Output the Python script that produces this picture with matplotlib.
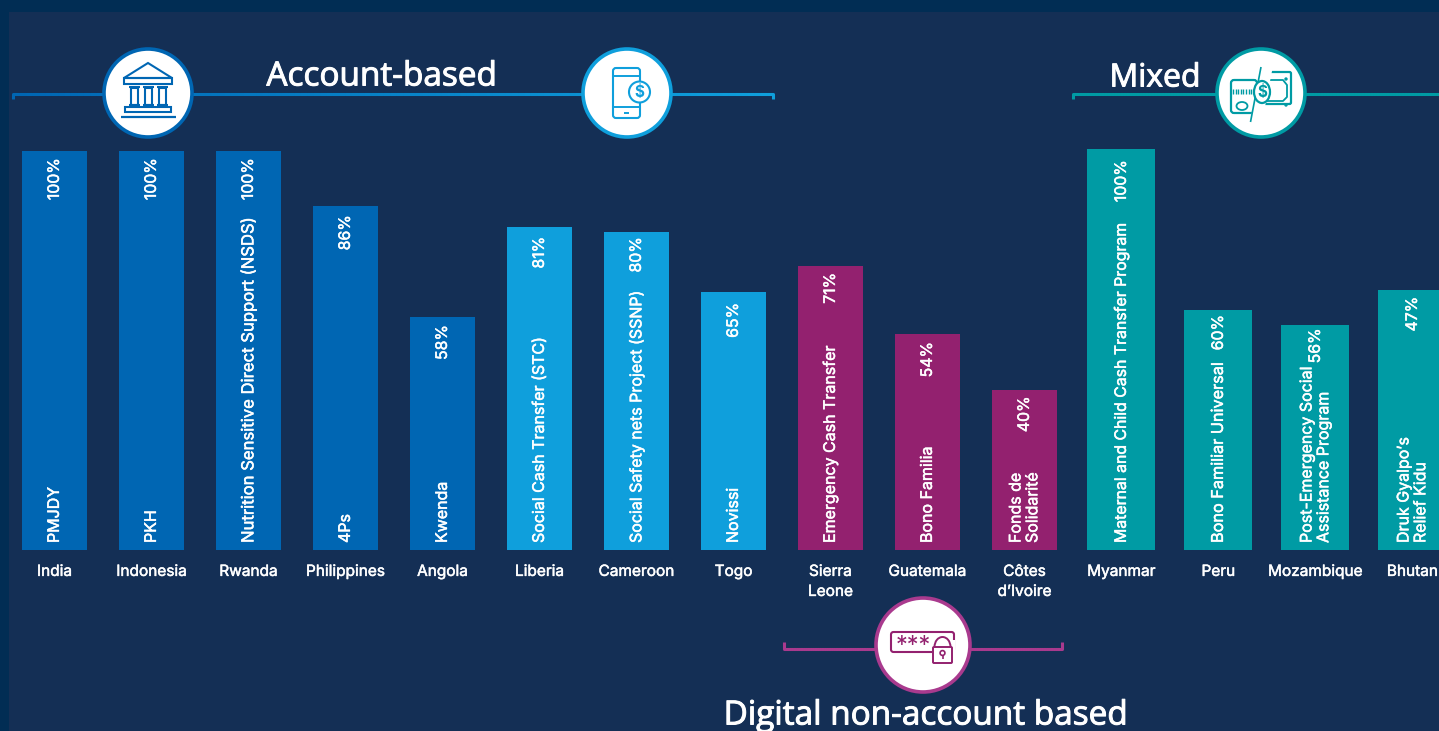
import numpy as np
import matplotlib
matplotlib.use("Agg")
import matplotlib.pyplot as plt
import matplotlib.patheffects as pe
from matplotlib.collections import LineCollection
from matplotlib.colors import to_rgb
from matplotlib.patches import Arc, Circle, Ellipse, FancyBboxPatch, Polygon, Rectangle

countries = ["India", "Indonesia", "Rwanda", "Philippines", "Angola", "Liberia", "Cameroon", "Togo",
             "Sierra\nLeone", "Guatemala", "Côtes\nd’Ivoire", "Myanmar", "Peru", "Mozambique", "Bhutan"]
programs = ["PMJDY", "PKH", "Nutrition Sensitive Direct Support (NSDS)", "4Ps", "Kwenda",
            "Social Cash Transfer (STC)", "Social Safety nets Project (SSNP)", "Novissi",
            "Emergency Cash Transfer", "Bono Familia", "Fonds de\nSolidarité",
            "Maternal and Child Cash Transfer Program", "Bono Familiar Universal",
            "Post-Emergency Social\nAssistance Program", "Druk Gyalpo’s\nRelief Kidu"]
value_labels = ["100%", "100%", "100%", "86%", "58%", "81%", "80%", "65%",
                "71%", "54%", "40%", "100%", "60%", "56%", "47%"]
# bar heights as drawn, the Bhutan bar is taller than its 47% label
bar_heights = [100, 100, 100, 86.2, 58.4, 81, 79.7, 64.7, 71.2, 54.1, 40, 100.5, 60.2, 56.3, 65.2]

DARK_BLUE = "#0066B3"
LIGHT_BLUE = "#0F9FDC"
MAGENTA = "#93216F"
TEAL = "#009BA4"
bar_colors = [DARK_BLUE] * 5 + [LIGHT_BLUE] * 3 + [MAGENTA] * 3 + [TEAL] * 4
bar_widths = [0.67] * 11 + [0.70] * 4
label_drop_px = [7, 7, 7, 9, 8, 10, 5, 11, 7, 8, 6, 11, 5, 3, 7]
program_sizes = [11.5, 11.5, 12.0, 11.5, 11.5, 11.5, 11.5, 11.5, 11.5, 11.5, 11.5, 11.4, 11.7, 11.5, 11.5]

plt.rcParams["font.family"] = ["Inter", "DejaVu Sans"]
bold = [pe.withStroke(linewidth=0.35, foreground="white")]

W, H = 1439, 731
fig = plt.figure(figsize=(W / 100, H / 100), dpi=100, facecolor="#012D54")

# pixel overlay for panel, brackets and icons
bg = fig.add_axes([0, 0, 1, 1], zorder=0)
bg.set_xlim(0, W)
bg.set_ylim(H, 0)
bg.axis("off")
bg.add_patch(Rectangle((9, 12), W, H, fc="#142F55", ec="none"))

ax = fig.add_axes([0, (H - 550) / H, 1, 399 / H], zorder=1)
ax.patch.set_alpha(0)
ax.set_xlim(-54.4 / 97, (W - 54.4) / 97)
ax.set_ylim(0, 100)
for side in ax.spines.values():
    side.set_visible(False)
ax.set_yticks([])

x = np.arange(len(countries))
ax.bar(x, bar_heights, width=bar_widths, color=bar_colors, clip_on=False)
ax.set_xticks(x, countries, color="white", fontsize=11.1, linespacing=1.42)
ax.tick_params(axis="x", length=0, pad=10)
for tick_label in ax.get_xticklabels():
    tick_label.set_path_effects(bold)

for i in x:
    ax.annotate(programs[i], (i, 0), xytext=(0, 7), textcoords="offset pixels", rotation=90,
                ha="center", va="bottom", color="white", fontsize=program_sizes[i], linespacing=1.15,
                multialignment="left", path_effects=bold)
    ax.annotate(value_labels[i], (i, bar_heights[i]), xytext=(0, -label_drop_px[i]), textcoords="offset pixels",
                rotation=90, ha="center", va="top", color="white", fontsize=11.4,
                annotation_clip=False, path_effects=bold)

ov = fig.add_axes([0, 0, 1, 1], zorder=2)
ov.set_xlim(0, W)
ov.set_ylim(H, 0)
ov.axis("off")


def bracket(x0, x1, y, hook, c0, c1=None):
    c1 = c1 or c0
    xs = np.linspace(x0, x1, 120)
    segs = [[(a, y), (b, y)] for a, b in zip(xs[:-1], xs[1:])]
    rgb0, rgb1 = np.array(to_rgb(c0)), np.array(to_rgb(c1))
    cols = [rgb0 + (rgb1 - rgb0) * t for t in np.linspace(0, 1, len(segs))]
    ov.add_collection(LineCollection(segs, colors=cols, linewidths=2.2, capstyle="round"))
    ov.plot([x0, x0], [y, y + hook], color=c0, lw=2.2, solid_capstyle="butt")
    ov.plot([x1, x1], [y, y + hook], color=c1, lw=2.2, solid_capstyle="butt")


def badge(cx, cy, r, color):
    ov.add_patch(Circle((cx, cy), r, fc="white", ec=color, lw=2.6, zorder=3))


def line(xs, ys, color, lw=1.4, z=4):
    ov.plot(xs, ys, color=color, lw=lw, zorder=z, solid_capstyle="butt")


def box(x0, y0, w, h, color, lw=1.4, pad=2, fc="none", z=4):
    ov.add_patch(FancyBboxPatch((x0, y0), w, h, boxstyle=f"round,pad=0,rounding_size={pad}",
                                fc=fc, ec=color, lw=lw, zorder=z))


bracket(13, 773, 93.5, 5, DARK_BLUE, LIGHT_BLUE)
bracket(1073, 1445, 93.5, 5, TEAL)
bracket(784, 1062, 649, -7, "#A93A8E")

title_font = {"family": ["Open Sans", "DejaVu Sans"], "color": "white", "ha": "center",
              "va": "center", "path_effects": [pe.withStroke(linewidth=0.7, foreground="white")]}
ov.text(382, 77, "Account-based", fontsize=24, **title_font)
ov.text(1155, 78, "Mixed", fontsize=23, **title_font)
ov.text(926, 716, "Digital non-account based", fontsize=24, **title_font)

# bank icon
badge(148, 93, 44, DARK_BLUE)
ov.add_patch(Polygon([(148, 63), (124, 78), (172, 78)], closed=True, fc="none", ec=DARK_BLUE, lw=1.5, zorder=4))
ov.add_patch(Rectangle((124, 78), 48, 6, fc="none", ec=DARK_BLUE, lw=1.5, zorder=4))
for cx in (134, 148, 162):
    ov.add_patch(Rectangle((cx - 3.5, 88), 7, 17, fc="none", ec=DARK_BLUE, lw=1.5, zorder=4))
    line([cx - 5.5, cx + 5.5], [87, 87], DARK_BLUE, 1.5)
    line([cx - 5.5, cx + 5.5], [105, 105], DARK_BLUE, 1.5)
ov.add_patch(Rectangle((125, 107), 46, 5, fc="none", ec=DARK_BLUE, lw=1.5, zorder=4))
line([121, 176], [117, 117], DARK_BLUE, 1.6)

# phone icon
badge(627, 93, 44, LIGHT_BLUE)
box(613, 68, 27, 50, LIGHT_BLUE, lw=1.5, pad=3)
line([613, 640], [76, 76], LIGHT_BLUE)
line([613, 640], [107, 107], LIGHT_BLUE)
line([624, 629], [112.5, 112.5], LIGHT_BLUE, 1.4)
ov.add_patch(Circle((639.5, 92), 10.5, fc="white", ec=LIGHT_BLUE, lw=1.5, zorder=5))
ov.text(639.5, 92, "$", color=LIGHT_BLUE, fontsize=11, fontweight="bold", ha="center", va="center", zorder=6)

# card and banknote icon
badge(1261, 93, 44, TEAL)
box(1262, 72, 29, 32, TEAL, lw=1.6, pad=1.5)
box(1231, 80, 26, 33, TEAL, lw=1.6, pad=3, fc="white", z=5)
for sx in np.arange(1233, 1256, 2.6):
    line([sx, sx], [89, 94], TEAL, 1.0, z=6)
ov.add_patch(Ellipse((1242, 106), 11, 8, fc="none", ec=TEAL, lw=1.3, zorder=6))
ov.add_patch(Polygon([(1261, 66), (1250, 122), (1262, 122), (1273, 66)], closed=True, fc="white", ec="none", zorder=5))
line([1261, 1250.5], [67, 122], TEAL, 1.2, z=7)
ov.add_patch(Ellipse((1262, 92), 16, 22, fc="white", ec=TEAL, lw=1.6, zorder=7))
ov.text(1262, 92, "$", color=TEAL, fontsize=11, fontweight="bold", ha="center", va="center", zorder=8)
line([1268, 1283, 1287, 1287, 1283, 1266], [80, 80, 85, 97, 101, 101], TEAL, 1.3)
for cy in (79, 105):
    ov.add_patch(Circle((1286, cy), 1.7, fc=TEAL, ec="none", zorder=6))

# password and lock icon
badge(923, 645, 47, "#A93A8E")
box(891, 632, 63, 20, MAGENTA, lw=1.5, pad=2.5)
ov.text(913, 646, "***", color=MAGENTA, fontsize=17, ha="center", va="center", zorder=5)
ov.add_patch(Rectangle((932, 640), 23, 24, fc="white", ec="none", zorder=5))
ov.add_patch(Arc((942.5, 647), 16, 20, theta1=180, theta2=360, ec=MAGENTA, lw=1.4, zorder=6))
box(933, 647, 19, 16, MAGENTA, lw=1.4, pad=1, z=6)
ov.add_patch(Circle((942.5, 653), 2.4, fc="none", ec=MAGENTA, lw=1.2, zorder=6))
line([942.5, 942.5], [655.5, 659], MAGENTA, 1.2, z=6)

fig.savefig("out.png", dpi=100, facecolor=fig.get_facecolor())
plt.close(fig)
